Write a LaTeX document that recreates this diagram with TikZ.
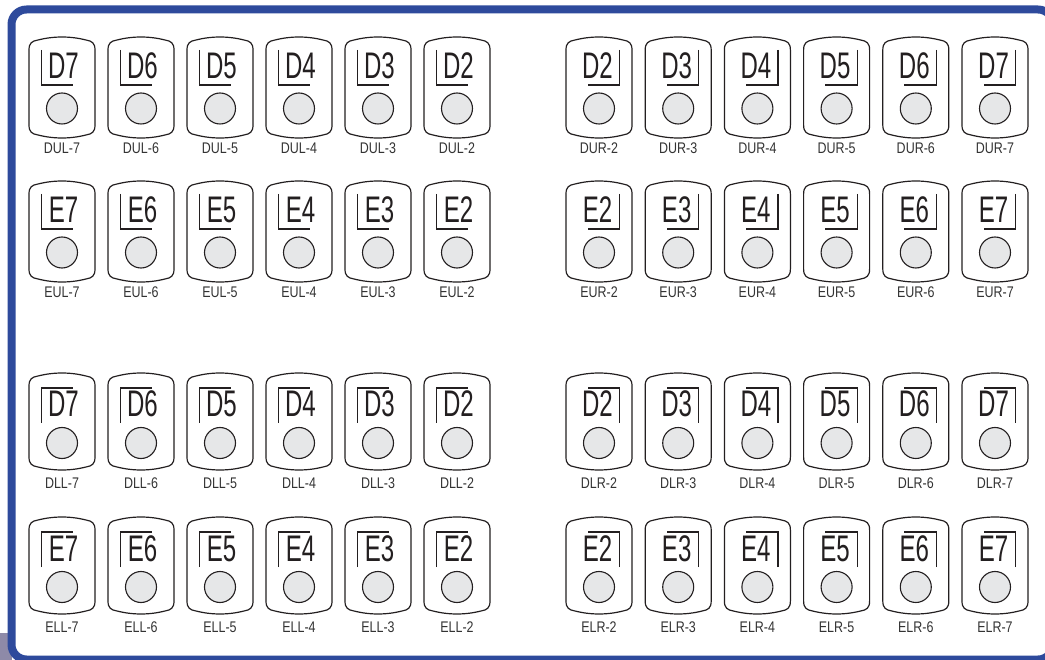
\documentclass[tikz,border=0pt]{standalone}
\usepackage{fontspec}
\usepackage{graphicx}
\newfontfamily\keyfont{Liberation Sans}
\definecolor{framecol}{HTML}{2E4A9C}
\definecolor{dotgrey}{HTML}{E6E7E8}
\definecolor{inkcol}{HTML}{231F20}
\definecolor{labcol}{HTML}{333333}
\definecolor{patchgrey}{HTML}{8E8AA8}
\tikzset{
  keyline/.style={draw=inkcol, line width=1.2pt, fill=white},
  brk/.style={draw=inkcol, line width=1.2pt},
  dot/.style={circle, draw=inkcol, line width=1.1pt, fill=dotgrey, minimum size=31pt, inner sep=0pt},
  bigtxt/.style={inner sep=0pt, anchor=base, text=inkcol, font=\keyfont\fontsize{37}{37}\selectfont},
  labtxt/.style={inner sep=0pt, text=labcol, font=\keyfont\fontsize{15.4}{16}\selectfont},
  frame/.style={draw=framecol, line width=8pt, rounded corners=15pt},
}
% bracket paths per group
\newcommand\brUL{\draw[brk] (-20.5,13) -- (-20.5,48) -- (11,48);}
\newcommand\brUR{\draw[brk] (20.5,13) -- (20.5,48) -- (-11.5,48);}
\newcommand\brLL{\draw[brk] (-20.5,50) -- (-20.5,15) -- (11,15);}
\newcommand\brLR{\draw[brk] (20.5,50) -- (20.5,15) -- (-11.5,15);}
\newcommand\txUL{(1.5,42)}
\newcommand\txUR{(-1.5,42)}
\newcommand\txLL{(1.5,44)}
\newcommand\txLR{(-1.5,44)}
\newcommand\khUL{101}
\newcommand\khUR{101}
\newcommand\khLL{97}
\newcommand\khLR{97}
\newcommand\lyUL{111.5}
\newcommand\lyUR{111.5}
\newcommand\lyLL{110}
\newcommand\lyLR{110}
\newcommand\cyUL{71.5}
\newcommand\cyUR{71.5}
\newcommand\cyLL{70}
\newcommand\cyLR{70}
% #1 x, #2 top y, #3 big text, #4 label, #5 group
\newcommand\mykey[5]{%
  \begin{scope}[shift={(#1,#2)}]
    \pgfmathsetmacro\H{\csname kh#5\endcsname}
    \draw[keyline] (-33,13) .. controls (-33,6) and (-30,4) .. (-24,3)
      .. controls (-16,1) and (-8,0) .. (0,0)
      .. controls (8,0) and (16,1) .. (24,3)
      .. controls (30,4) and (33,6) .. (33,13)
      -- (33,\H-13)
      .. controls (33,\H-6) and (30,\H-4) .. (24,\H-3)
      .. controls (16,\H-1) and (8,\H) .. (0,\H)
      .. controls (-8,\H) and (-16,\H-1) .. (-24,\H-3)
      .. controls (-30,\H-4) and (-33,\H-6) .. (-33,\H-13)
      -- cycle;
    \csname br#5\endcsname
    \node[bigtxt] (t#4) at \csname tx#5\endcsname {\scalebox{0.65}[1]{#3}};
    \node[dot] (c#4) at (0,\csname cy#5\endcsname) {};
    \node[labtxt] (l#4) at (0,\csname ly#5\endcsname) {\scalebox{0.81}[1]{#4}};
  \end{scope}}
\begin{document}
\begin{tikzpicture}[x=1pt,y=-1pt]
\useasboundingbox (0,0) rectangle (1045,660);
\clip (0,0) rectangle (1045,660);
\fill[white] (0,0) rectangle (1045,660);
\fill[patchgrey] (0,633) rectangle (12,660);
\draw[frame, fill=white] (11.5,9.5) rectangle (1053,659.5);
% left groups
\foreach \n [count=\i from 0] in {7,6,5,4,3,2} {
  \mykey{62+79*\i}{37}{D\n}{DUL-\n}{UL}
  \mykey{62+79*\i}{181}{E\n}{EUL-\n}{UL}
  \mykey{62+79*\i}{373}{D\n}{DLL-\n}{LL}
  \mykey{62+79*\i}{517}{E\n}{ELL-\n}{LL}
}
% right groups
\foreach \n [count=\i from 0] in {2,3,4,5,6,7} {
  \mykey{599+79.2*\i}{37}{D\n}{DUR-\n}{UR}
  \mykey{599+79.2*\i}{181}{E\n}{EUR-\n}{UR}
  \mykey{599+79.2*\i}{373}{D\n}{DLR-\n}{LR}
  \mykey{599+79.2*\i}{517}{E\n}{ELR-\n}{LR}
}
\end{tikzpicture}
\end{document}
